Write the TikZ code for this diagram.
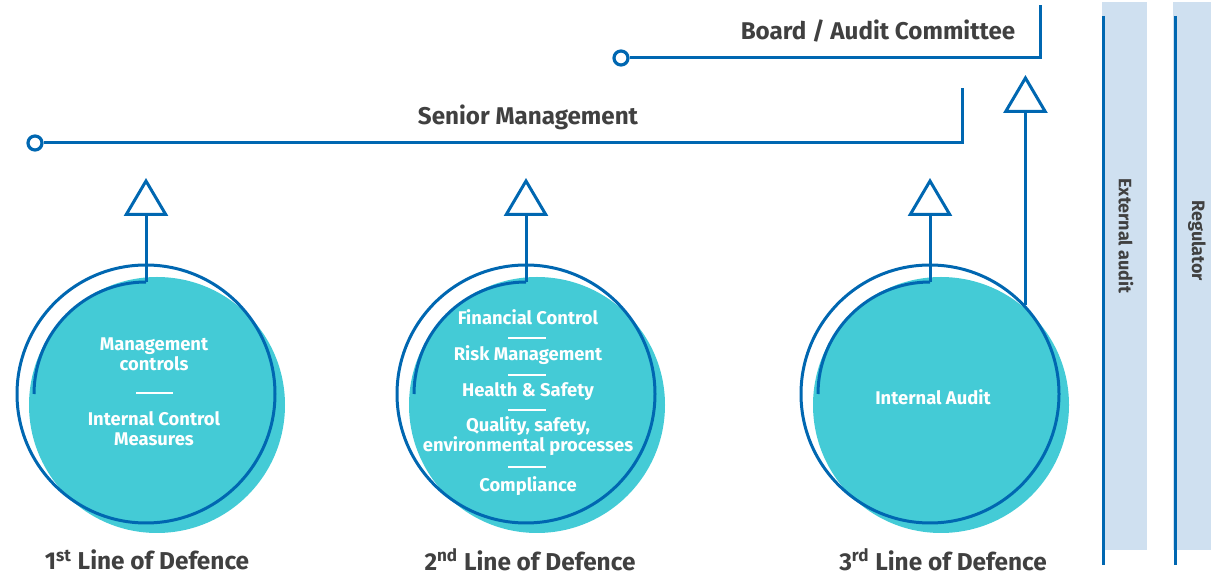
\documentclass[tikz,border=0pt]{standalone}
\usepackage{fontspec}
\setmainfont{Fira Sans}
\usetikzlibrary{arrows.meta}

\definecolor{lodblue}{RGB}{0,103,177}
\definecolor{lodteal}{RGB}{68,203,214}
\definecolor{lodbar}{RGB}{207,224,240}
\definecolor{lodtext}{RGB}{64,64,64}

\begin{document}
\begin{tikzpicture}[x=0.5pt,y=-0.5pt,
    level/.style={draw=lodblue, line width=1.5pt},
    lift/.style={level, -{Triangle[open,length=19pt,width=22pt]}},
    ring/.style={circle, draw=lodblue, line width=1.5pt, minimum size=129pt, inner sep=0pt},
    disc/.style={circle, fill=lodteal, minimum size=128pt, inner sep=0pt},
    knob/.style={circle, draw=lodblue, fill=white, line width=1.6pt, minimum size=7pt, inner sep=0pt},
    head/.style={text=lodtext, font=\bfseries\fontsize{12.1}{14}\selectfont},
    foot/.style={text=lodtext, font=\bfseries\fontsize{12.2}{14}\selectfont},
    side/.style={text=lodtext, rotate=-90, font=\bfseries\fontsize{9}{11}\selectfont},
    item/.style={text=white, align=center, font=\bfseries\fontsize{9.2}{10}\selectfont},
    divider/.style={draw=white, line width=0.6pt}]
            \useasboundingbox (0,0) rectangle (1211,576);

            % Senior management level
            \node[knob] (smknob) at (35,143) {};
            \coordinate (smend) at (962,88);
            \draw[level] (smknob) -- (smknob -| smend) -- (smend);
            \node[head] at (528,117) {Senior Management};

            % Board level
            \node[knob] (bdknob) at (621,58) {};
            \coordinate (bdend) at (1040,5);
            \draw[level] (bdknob) -- (bdknob -| bdend) -- (bdend);
            \node[head] at (878,31) {Board / Audit Committee};

            % The three lines of defence
            \foreach \cx/\n in {146/1, 526/2, 930/3}
                {
                    \node[disc] (disc\n) at (\cx+11,405) {};
                    \node[ring] (ring\n) at (\cx,394) {};
                    \draw[level] (ring\n.center) ++(-112,0) arc[start angle=180, end angle=90, radius=56pt] coordinate (top\n);
                    \draw[lift, shorten >=17.5pt] (top\n) -- (top\n |- smknob);
                }
            \draw[lift, shorten >=8.5pt] (ring3.43) -- (ring3.43 |- bdknob);

            % Contents of the circles
            \node[item] at (154,354) {Management\\controls};
            \draw[divider] (136,393) -- (173,393);
            \node[item] at (154,429) {Internal Control\\Measures};

            \node[item] at (528,317) {Financial Control};
            \node[item] at (528,355) {Risk Management};
            \node[item] at (528,392) {Health \& Safety};
            \node[item] at (528,436) {Quality, safety,\\environmental processes};
            \node[item] at (528,486) {Compliance};
            \foreach \y in {338, 375, 410, 467}
                \draw[divider] (508,\y) -- (546,\y);

            \node[item] at (933,397) {Internal Audit};

            % Labels
            \node[foot] at (147,560) {1\textsuperscript{st} Line of Defence};
            \node[foot] at (530,560) {2\textsuperscript{nd} Line of Defence};
            \node[foot] at (943,560) {3\textsuperscript{rd} Line of Defence};

            % External bodies
            \fill[lodbar] (1102,2) rectangle (1147,550);
            \draw[level] (1103,16) -- (1103,565);
            \node[side] at (1126,236) {External audit};
            \fill[lodbar] (1173,2) rectangle (1211,550);
            \draw[level] (1175,16) -- (1175,565);
            \node[side] at (1197,241) {Regulator};

        \end{tikzpicture}
\end{document}
